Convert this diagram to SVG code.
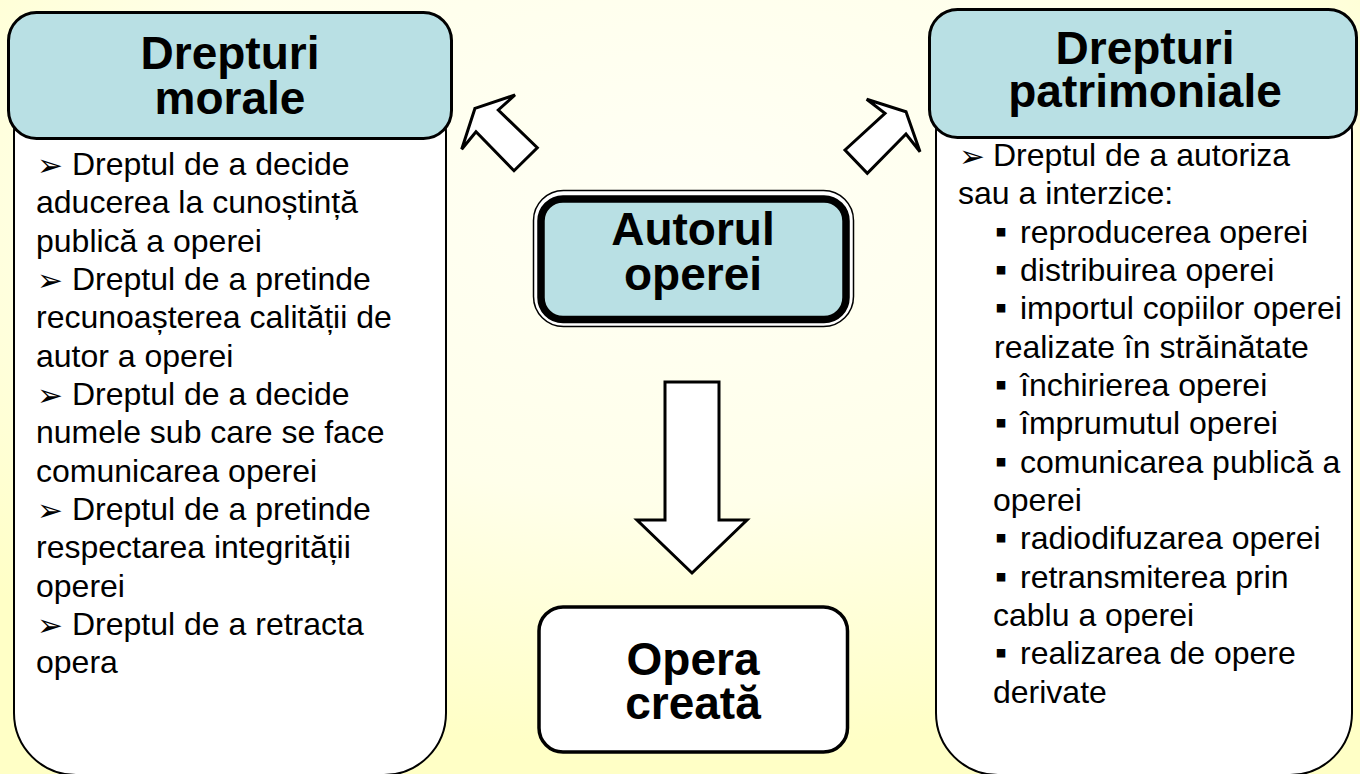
<svg xmlns="http://www.w3.org/2000/svg" width="1360" height="774" viewBox="0 0 1360 774">
<defs>
<radialGradient id="bg" cx="50%" cy="25%" r="72%">
<stop offset="0" stop-color="#FFFFF5"/>
<stop offset="0.55" stop-color="#FFFFEA"/>
<stop offset="1" stop-color="#FFFFC6"/>
</radialGradient>
<style>
.hdr{fill:#B9E0E4;stroke:#000;stroke-width:3}
.body{fill:#fff;stroke:#000;stroke-width:2}
.big{font-family:"Liberation Sans",Arial,sans-serif;font-weight:bold;font-size:46px;fill:#000;text-anchor:middle}
.t{font-family:"Liberation Sans",Arial,sans-serif;font-size:32px;fill:#000}
.sym{font-family:"DejaVu Sans",sans-serif;font-size:31px}
.sq{font-family:"Liberation Sans","DejaVu Sans",sans-serif;font-size:34px}
.arr{fill:#fff;stroke:#000;stroke-width:3;stroke-linejoin:miter}
</style>
</defs>
<rect x="0" y="0" width="1360" height="774" fill="url(#bg)"/>

<g id="node-morale">
<rect class="body" x="14" y="70" width="432" height="705" rx="62"/>
<rect class="hdr" x="8.5" y="12.5" width="443" height="126" rx="28"/>
<text class="big" x="230" y="69">Drepturi</text>
<text class="big" x="230" y="114">morale</text>
<text class="t">
<tspan class="sym" x="37" y="176">➢</tspan><tspan x="72" y="175">Dreptul de a decide</tspan>
<tspan x="36" y="213.3">aducerea la cunoștință</tspan>
<tspan x="36" y="251.7">publică a operei</tspan>
<tspan class="sym" x="37" y="291">➢</tspan><tspan x="72" y="290">Dreptul de a pretinde</tspan>
<tspan x="36" y="328.3">recunoașterea calității de</tspan>
<tspan x="36" y="366.7">autor a operei</tspan>
<tspan class="sym" x="37" y="406">➢</tspan><tspan x="72" y="405">Dreptul de a decide</tspan>
<tspan x="36" y="443.3">numele sub care se face</tspan>
<tspan x="36" y="481.7">comunicarea operei</tspan>
<tspan class="sym" x="37" y="521">➢</tspan><tspan x="72" y="520">Dreptul de a pretinde</tspan>
<tspan x="36" y="558.3">respectarea integrității</tspan>
<tspan x="36" y="596.7">operei</tspan>
<tspan class="sym" x="37" y="636">➢</tspan><tspan x="72" y="635">Dreptul de a retracta</tspan>
<tspan x="36" y="673.3">opera</tspan>
</text>
</g>

<g id="node-patrimoniale">
<rect class="body" x="936" y="70" width="416" height="705" rx="62"/>
<rect class="hdr" x="929.5" y="9.5" width="427" height="128" rx="28"/>
<text class="big" x="1145" y="64">Drepturi</text>
<text class="big" x="1145" y="107">patrimoniale</text>
<text class="t">
<tspan class="sym" x="959" y="167">➢</tspan><tspan x="993" y="166">Dreptul de a autoriza</tspan>
<tspan x="958" y="204.3">sau a interzice:</tspan>
<tspan class="sq" x="995" y="242.7">▪</tspan><tspan x="1020" y="242.7">reproducerea operei</tspan>
<tspan class="sq" x="995" y="281">▪</tspan><tspan x="1020" y="281">distribuirea operei</tspan>
<tspan class="sq" x="995" y="319.3">▪</tspan><tspan x="1020" y="319.3">importul copiilor operei</tspan>
<tspan x="994" y="357.7">realizate în străinătate</tspan>
<tspan class="sq" x="995" y="396">▪</tspan><tspan x="1020" y="396">închirierea operei</tspan>
<tspan class="sq" x="995" y="434.3">▪</tspan><tspan x="1020" y="434.3">împrumutul operei</tspan>
<tspan class="sq" x="995" y="472.7">▪</tspan><tspan x="1020" y="472.7">comunicarea publică a</tspan>
<tspan x="993" y="511">operei</tspan>
<tspan class="sq" x="995" y="549.3">▪</tspan><tspan x="1020" y="549.3">radiodifuzarea operei</tspan>
<tspan class="sq" x="995" y="587.7">▪</tspan><tspan x="1020" y="587.7">retransmiterea prin</tspan>
<tspan x="993" y="626">cablu a operei</tspan>
<tspan class="sq" x="995" y="664.3">▪</tspan><tspan x="1020" y="664.3">realizarea de opere</tspan>
<tspan x="993" y="702.7">derivate</tspan>
</text>
</g>

<g id="node-autorul">
<rect x="533.5" y="190.5" width="320" height="136" rx="30" fill="#fff" stroke="#000" stroke-width="1.5"/>
<rect x="541" y="199" width="305" height="120.5" rx="22" fill="#B9E0E4" stroke="#000" stroke-width="7.5"/>
<text class="big" x="693" y="245">Autorul</text>
<text class="big" x="693" y="290">operei</text>
</g>

<g id="node-opera">
<rect x="539" y="607" width="308.5" height="145" rx="24" fill="#fff" stroke="#000" stroke-width="3.5"/>
<text class="big" x="693" y="674.5">Opera</text>
<text class="big" x="693" y="718.5">creată</text>
</g>

<g id="connectors">
<polygon class="arr" points="475,108.3 515,95 498.3,110 537.3,147.7 514,170.7 476,131.7 461.7,149.3"/>
<polygon class="arr" points="866.7,99.3 906,111.7 920,151.7 906,134 867.3,173.3 845,150 885,113.3"/>
<polygon class="arr" points="665,382 719,382 719,520 747,520 692,573 637,520 665,520"/>
</g>
</svg>
